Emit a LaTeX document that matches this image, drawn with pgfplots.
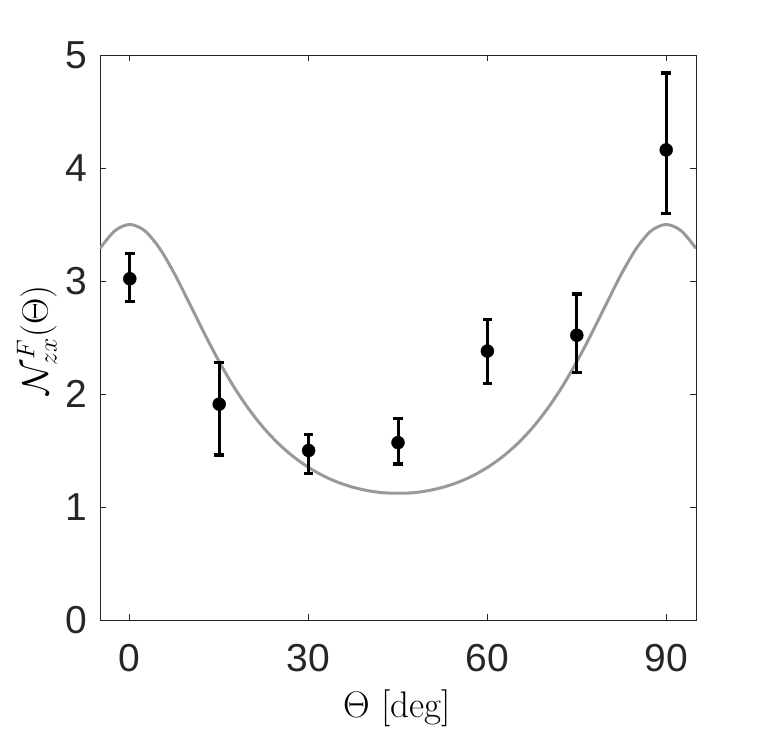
\RequirePackage{fix-cm}
\documentclass[border=0pt]{standalone}
\usepackage{pgfplots}
\pgfplotsset{compat=1.18}
\usepackage{pgfplotstable}
\usepackage{fontspec}
\newfontfamily\arial{Liberation Sans}
\definecolor{axgray}{HTML}{262626}
\definecolor{fitgray}{HTML}{999999}
\pgfplotstableread{
x y ep em
0 3.02 0.225 0.20
15 1.91 0.37 0.45
30 1.50 0.14 0.205
45 1.57 0.21 0.19
60 2.38 0.28 0.29
75 2.52 0.365 0.33
90 4.16 0.68 0.56
}\meas
\pgfplotstableread{
x y
-5 3.289
-2.5 3.445
0 3.500
2.5 3.445
5 3.289
7.5 3.064
10 2.803
12.5 2.537
15 2.286
17.5 2.060
20 1.864
22.5 1.697
25 1.558
27.5 1.443
30 1.350
32.5 1.275
35 1.217
37.5 1.174
40 1.144
42.5 1.126
45 1.122
47.5 1.126
50 1.144
52.5 1.174
55 1.217
57.5 1.275
60 1.350
62.5 1.443
65 1.558
67.5 1.697
70 1.864
72.5 2.060
75 2.286
77.5 2.537
80 2.803
82.5 3.064
85 3.289
87.5 3.445
90 3.500
92.5 3.445
95 3.289
}\fit
\begin{document}
\begin{tikzpicture}
\begin{axis}[
 scale only axis, width=596pt, height=565pt,
 xmin=-5, xmax=95, ymin=0, ymax=5,
 xtick={0,30,60,90}, ytick={0,1,2,3,4,5},
 tick align=inside, major tick length=6pt,
 axis line style={axgray, line width=0.8pt},
 tick style={axgray, line width=0.8pt},
 ticklabel style={font=\fontsize{39}{47}\selectfont\arial, text=axgray, inner sep=0pt},
 /pgf/number format/assume math mode=true,
 xticklabel style={anchor=north, yshift=-24pt},
 yticklabel style={anchor=east, xshift=-13pt},
 xlabel={$\Theta$ [deg]}, ylabel={$\mathcal{N}^{F}_{zx}(\Theta)$},
 xlabel style={font=\fontsize{37}{44}\selectfont, text=black, inner sep=0pt, at={(axis description cs:0.498,-0.157)}, anchor=center},
 ylabel style={font=\fontsize{36.5}{44}\selectfont, text=black, inner sep=0pt, at={(axis description cs:-0.106,0.495)}, anchor=center},
]
\addplot[fitgray, line width=3pt, smooth] table[x=x,y=y] {\fit};
\addplot[black, only marks, mark=*, mark size=6.5pt,
  error bars/.cd, y dir=both, y explicit,
  error bar style={line width=3pt, black},
  error mark options={rotate=90, mark size=4.8pt, line width=3.2pt, black}]
  table[x=x, y=y, y error plus=ep, y error minus=em] {\meas};
\end{axis}
\pgfresetboundingbox
\path ([shift={(-100pt,-112pt)}]current axis.south west) rectangle ([shift={(73pt,55pt)}]current axis.north east);
\end{tikzpicture}
\end{document}
